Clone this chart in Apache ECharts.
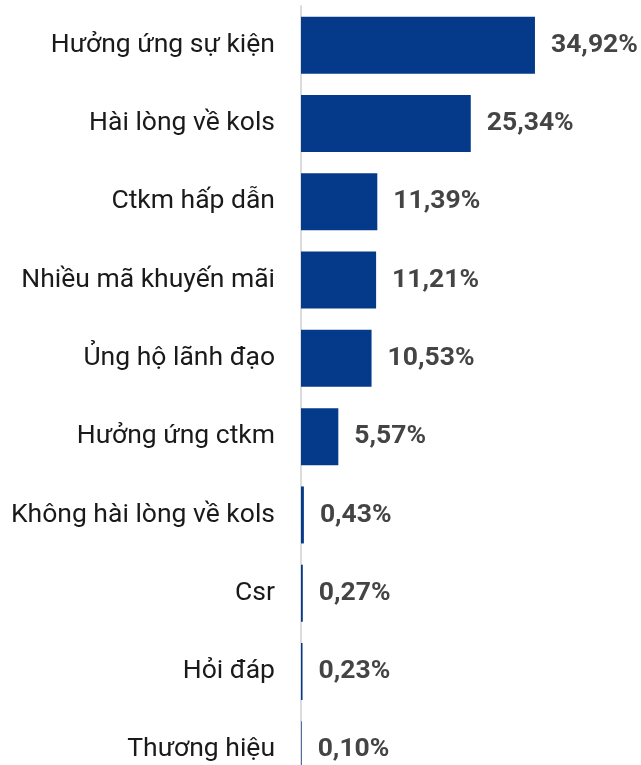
<!DOCTYPE html>
<html>
<head>
<meta charset="utf-8">
<script src="https://cdn.jsdelivr.net/npm/echarts@6/dist/echarts.min.js"></script>
<style>
  html, body { margin: 0; padding: 0; background: #fff; }
  #chart { width: 641px; height: 765px; }
</style>
</head>
<body>
<div id="chart"></div>
<script>
  // du lieu doc tu hinh
  var categories = ['Hưởng ứng sự kiện', 'Hài lòng về kols', 'Ctkm hấp dẫn', 'Nhiều mã khuyến mãi',
    'Ủng hộ lãnh đạo', 'Hưởng ứng ctkm', 'Không hài lòng về kols', 'Csr', 'Hỏi đáp', 'Thương hiệu'];
  var values = [34.92, 25.34, 11.39, 11.21, 10.53, 5.57, 0.43, 0.27, 0.23, 0.10];

  var myChart = echarts.init(document.getElementById('chart'));

  var option = {
    backgroundColor: '#fff',
    animation: false,
    grid: {
      left: 301,
      top: 6,
      width: 268,
      height: 783,
      outerBoundsMode: 'none'
    },
    xAxis: {
      type: 'value',
      min: 0,
      max: 40,
      show: false
    },
    yAxis: {
      type: 'category',
      inverse: true,
      data: categories,
      axisLine: { show: true, lineStyle: { color: '#dcdcdc', width: 2 } },
      axisTick: { show: false },
      axisLabel: {
        margin: 26,
        fontFamily: 'Roboto',
        fontSize: 26.5,
        color: '#1a1a1a'
      }
    },
    series: [{
      type: 'bar',
      data: values,
      barWidth: 57,
      itemStyle: { color: '#053a8a' },
      label: {
        show: true,
        position: 'right',
        distance: 16,
        fontFamily: 'Roboto',
        fontWeight: 'bold',
        fontSize: 26.5,
        color: '#444',
        formatter: function (p) {
          return p.value.toFixed(2).replace('.', ',') + '%';
        }
      }
    }]
  };

  myChart.setOption(option);
</script>
</body>
</html>
